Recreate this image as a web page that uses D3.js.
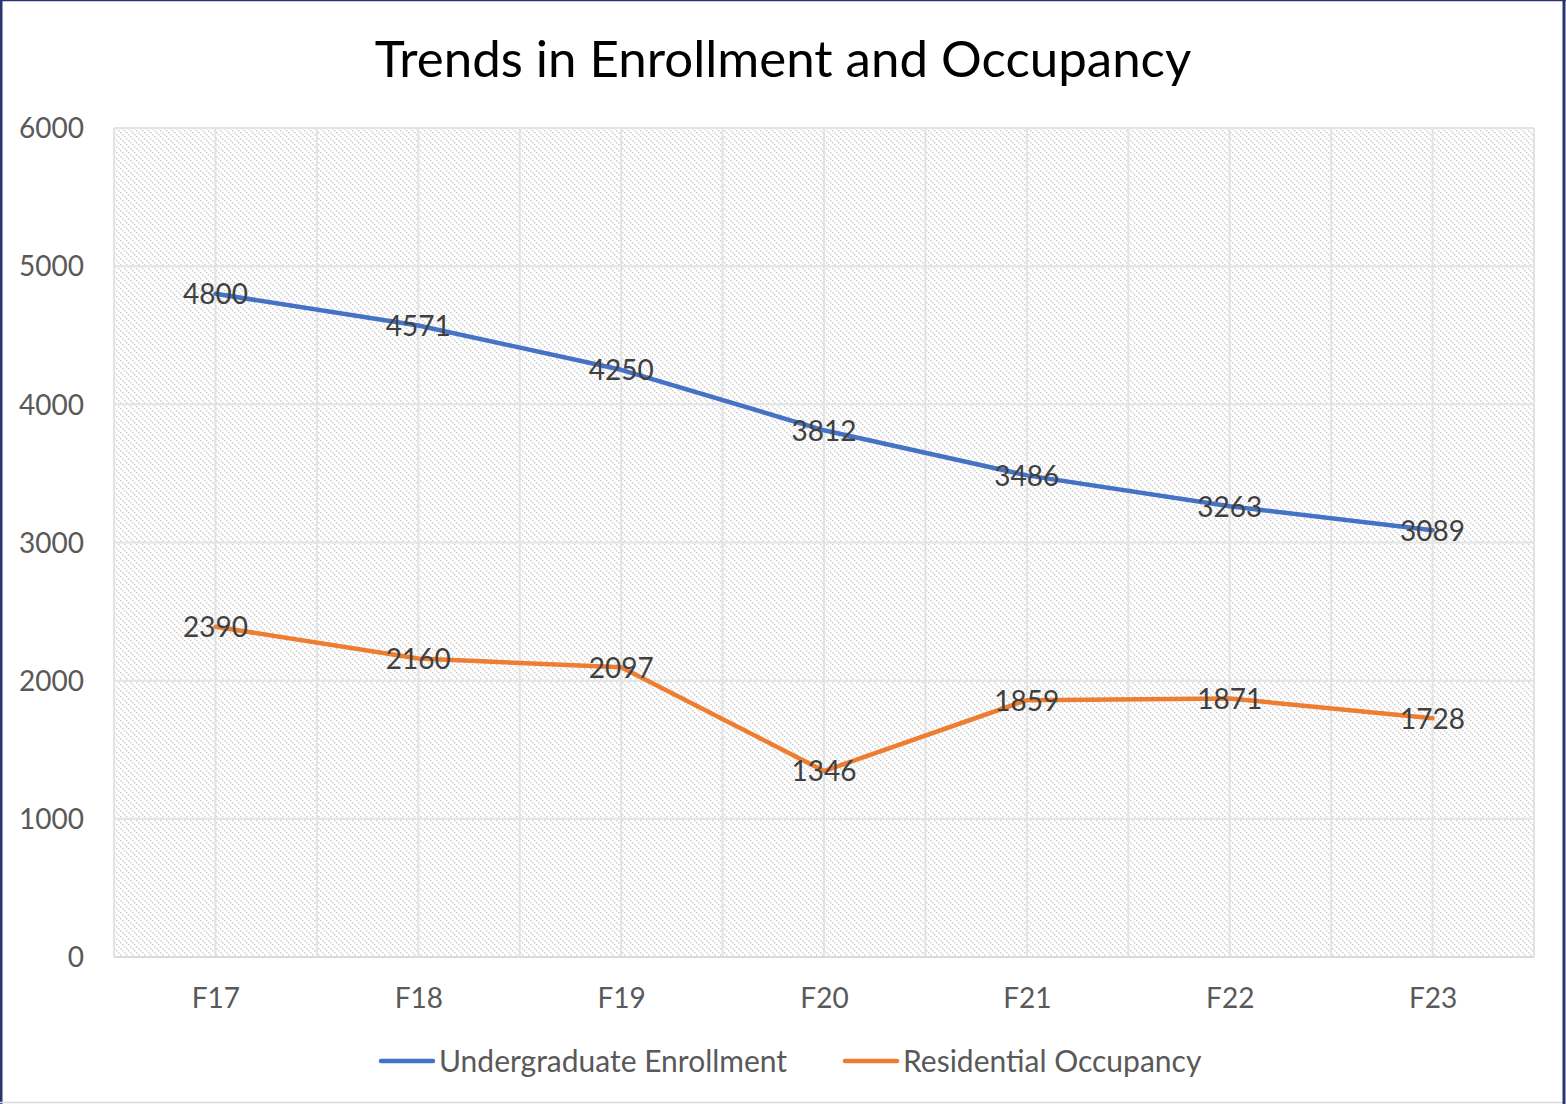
<!DOCTYPE html>
<html>
<head>
<meta charset="utf-8">
<script src="https://cdn.jsdelivr.net/npm/d3@7"></script>
<style>
  body { margin: 0; background: #fff; }
  text { font-family: Lato, "Open Sans", sans-serif; }
</style>
</head>
<body>
<div id="container"></div>
<script>
// ---------------- DATA ----------------
const years = ["F17", "F18", "F19", "F20", "F21", "F22", "F23"];
const enrollment = [4800, 4571, 4250, 3812, 3486, 3263, 3089];
const occupancy = [2390, 2160, 2097, 1346, 1859, 1871, 1728];
const yTicks = [0, 1000, 2000, 3000, 4000, 5000, 6000];
const seriesNames = ["Undergraduate Enrollment", "Residential Occupancy"];
const seriesColors = ["#4472C4", "#ED7D31"];

// ---------------- SVG ----------------
const width = 1566, height = 1104;
const plot = { left: 114, right: 1534, top: 128, bottom: 957 };

const svg = d3.select("#container").append("svg")
    .attr("width", width)
    .attr("height", height);

// hatch pattern for plot area
const defs = svg.append("defs");
const pat = defs.append("pattern")
    .attr("id", "hatch")
    .attr("patternUnits", "userSpaceOnUse")
    .attr("width", 6).attr("height", 6);
pat.append("rect").attr("width", 6).attr("height", 6).attr("fill", "#fff");
[0, 2, 4].forEach(function (k) {
    pat.append("rect")
        .attr("x", k).attr("y", k)
        .attr("width", 1.5).attr("height", 1.5)
        .attr("fill", "#cfcfcf");
});

// outer frame
svg.append("rect").attr("x", 0).attr("y", 0).attr("width", width).attr("height", height).attr("fill", "#fff");
svg.append("line").attr("x1", 1).attr("x2", 1).attr("y1", 0).attr("y2", height)
    .attr("stroke", "#2b3470").attr("stroke-width", 3);
svg.append("line").attr("x1", 0).attr("x2", width).attr("y1", 0.5).attr("y2", 0.5)
    .attr("stroke", "#2b3470").attr("stroke-width", 1.5);
svg.append("line").attr("x1", 1564).attr("x2", 1564).attr("y1", 0).attr("y2", height)
    .attr("stroke", "#2b3470").attr("stroke-width", 3);
svg.append("line").attr("x1", 0).attr("x2", 1562).attr("y1", 1102.5).attr("y2", 1102.5)
    .attr("stroke", "#d9d9d9").attr("stroke-width", 1.5);

// ---------------- SCALES ----------------
const xScale = d3.scalePoint().domain(years).range([plot.left, plot.right]).padding(0.5);
const yScale = d3.scaleLinear().domain([0, 6000]).range([plot.bottom, plot.top]);
const step = xScale.step();

// plot background
svg.append("rect")
    .attr("x", plot.left).attr("y", plot.top)
    .attr("width", plot.right - plot.left).attr("height", plot.bottom - plot.top)
    .attr("fill", "url(#hatch)");

// ---------------- GRID ----------------
const grid = svg.append("g").attr("stroke", "#e3e3e3").attr("stroke-width", 2);
// vertical: category centres and boundaries
const vLines = years.map(function (d) { return xScale(d); })
    .concat(years.map(function (d) { return xScale(d) - step / 2; }))
    .concat([xScale(years[years.length - 1]) + step / 2]);
grid.selectAll("line.v").data(vLines).enter().append("line")
    .attr("class", "v")
    .attr("x1", function (d) { return d; }).attr("x2", function (d) { return d; })
    .attr("y1", plot.top).attr("y2", plot.bottom);
grid.selectAll("line.h").data(yTicks).enter().append("line")
    .attr("class", "h")
    .attr("x1", plot.left).attr("x2", plot.right)
    .attr("y1", function (d) { return yScale(d); }).attr("y2", function (d) { return yScale(d); });
svg.append("line")
    .attr("x1", plot.left).attr("x2", plot.right)
    .attr("y1", plot.bottom).attr("y2", plot.bottom)
    .attr("stroke", "#d9d9d9").attr("stroke-width", 2);

// ---------------- AXES ----------------
const yaxis = d3.axisLeft(yScale).tickValues(yTicks).tickFormat(d3.format("d")).tickSize(0).tickPadding(0);
const gy = svg.append("g")
    .attr("transform", "translate(84,0)")
    .call(yaxis);
gy.select(".domain").remove();
gy.selectAll("text")
    .attr("fill", "#595959")
    .style("font-size", "28px")
    .style("font-family", "Lato, sans-serif")
    .attr("dy", "0.35em");

const xaxis = d3.axisBottom(xScale).tickSize(0).tickPadding(0);
const gx = svg.append("g")
    .attr("transform", "translate(0,998)")
    .call(xaxis);
gx.select(".domain").remove();
gx.selectAll("text")
    .attr("fill", "#595959")
    .style("font-size", "28px")
    .style("font-family", "Lato, sans-serif")
    .attr("dy", "0.35em");

// ---------------- LINES ----------------
const slices = [enrollment, occupancy].map(function (vals, i) {
    return {
        name: seriesNames[i],
        color: seriesColors[i],
        values: vals.map(function (v, j) { return { year: years[j], value: v }; })
    };
});

const line = d3.line()
    .x(function (d) { return xScale(d.year); })
    .y(function (d) { return yScale(d.value); });

const series = svg.selectAll("g.series").data(slices).enter().append("g").attr("class", "series");
series.append("path")
    .attr("d", function (d) { return line(d.values); })
    .attr("fill", "none")
    .attr("stroke", function (d) { return d.color; })
    .attr("stroke-width", 4.5)
    .attr("stroke-linejoin", "round")
    .attr("stroke-linecap", "round");

series.selectAll("text.lbl")
    .data(function (d) { return d.values; })
    .enter().append("text")
    .attr("class", "lbl")
    .attr("x", function (d) { return xScale(d.year); })
    .attr("y", function (d) { return yScale(d.value); })
    .attr("dy", "0.37em")
    .attr("text-anchor", "middle")
    .attr("fill", "#404040")
    .style("font-size", "28px")
    .text(function (d) { return d.value; });

// ---------------- TITLE ----------------
svg.append("text")
    .attr("x", 783)
    .attr("y", 77)
    .attr("text-anchor", "middle")
    .attr("fill", "#000")
    .style("font-size", "51px")
    .text("Trends in Enrollment and Occupancy");

// ---------------- LEGEND ----------------
const legendX = [381, 845];
const legend = svg.selectAll("g.legend").data(slices).enter().append("g")
    .attr("class", "legend")
    .attr("transform", function (d, i) { return "translate(" + legendX[i] + ",1061)"; });
legend.append("line")
    .attr("x1", 0).attr("x2", 52)
    .attr("stroke", function (d) { return d.color; })
    .attr("stroke-width", 4.5)
    .attr("stroke-linecap", "round");
legend.append("text")
    .attr("x", 58)
    .attr("dy", "0.35em")
    .attr("fill", "#595959")
    .style("font-size", "30px")
    .text(function (d) { return d.name; });
</script>
</body>
</html>
